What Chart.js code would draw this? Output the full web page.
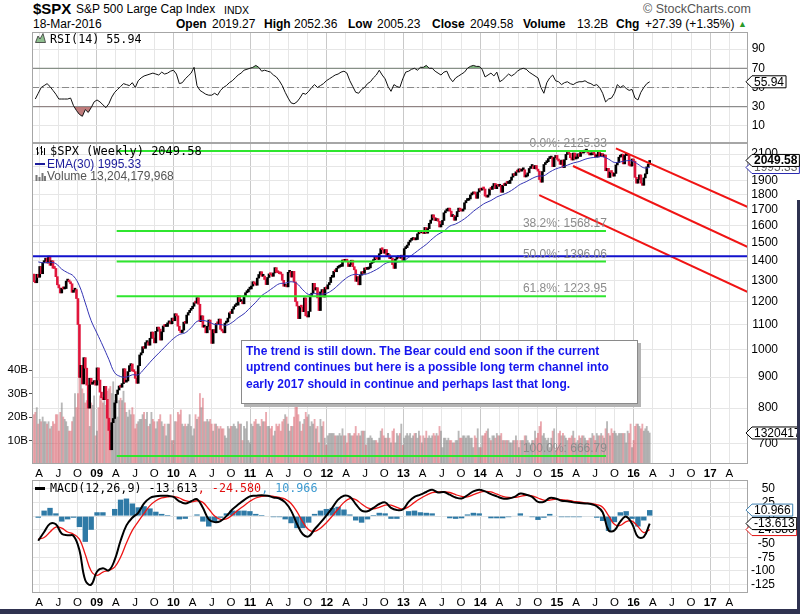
<!DOCTYPE html>
<html>
<head>
<meta charset="utf-8">
<script src="https://cdn.jsdelivr.net/npm/chart.js@4.4.1/dist/chart.umd.min.js"></script>
<style>
  body { margin: 0; background: #fff; font-family: Arial, "Liberation Sans", sans-serif; }
  #wrap { position: relative; width: 800px; height: 614px; overflow: hidden; background: #fff; }
  canvas { position: absolute; left: 0; }
  .t { position: absolute; white-space: nowrap; line-height: 14px; color: #000; }
  .b { font-weight: bold; }
  .mono { font-family: "DejaVu Sans Mono", monospace; }
  #note {
    position: absolute; left: 241px; top: 340px; width: 397px; height: 64px;
    box-sizing: border-box; border: 1px solid #8a8a8a; background: #fff;
    box-shadow: 3px 3px 0 #b4b4b4; padding: 2px 0 0 4px;
    font: bold 12px Arial, "Liberation Sans", sans-serif; line-height: 16.3px; color: #1515ee;
  }
</style>
</head>
<body>
<div id="wrap">
  <canvas id="rsiChart" width="800" height="111" style="top:32px"></canvas>
  <canvas id="priceChart" width="800" height="347" style="top:133px"></canvas>
  <canvas id="macdChart" width="800" height="129" style="top:480px"></canvas>

  <!-- header -->
  <div class="t b" style="left:33px;top:1px;font-size:15px;line-height:16px">$SPX</div>
  <div class="t" style="left:76px;top:2px;font-size:12px">S&amp;P 500 Large Cap Index</div>
  <div class="t" style="left:224px;top:3px;font-size:10.5px">INDX</div>
  <div class="t" style="left:643px;top:2px;font-size:12.5px;color:#555">&copy; StockCharts.com</div>
  <div class="t" style="left:33px;top:17px;font-size:12px">18-Mar-2016</div>
  <div class="t b" style="left:176px;top:17px;font-size:12px">Open</div>
  <div class="t" style="left:212px;top:17px;font-size:12px">2019.27</div>
  <div class="t b" style="left:264px;top:17px;font-size:12px">High</div>
  <div class="t" style="left:294px;top:17px;font-size:12px">2052.36</div>
  <div class="t b" style="left:348px;top:17px;font-size:12px">Low</div>
  <div class="t" style="left:377px;top:17px;font-size:12px">2005.23</div>
  <div class="t b" style="left:432px;top:17px;font-size:12px">Close</div>
  <div class="t" style="left:470px;top:17px;font-size:12px">2049.58</div>
  <div class="t b" style="left:523px;top:17px;font-size:12px">Volume</div>
  <div class="t" style="left:577px;top:17px;font-size:12px">13.2B</div>
  <div class="t b" style="left:616px;top:17px;font-size:12px">Chg</div>
  <div class="t" style="left:645px;top:17px;font-size:12px">+27.39 (+1.35%)</div>
  <div class="t" style="left:738px;top:17px;font-size:9px;color:#2a9a2a">&#9650;</div>

  <!-- panel labels -->
  <svg style="position:absolute;left:35px;top:33px" width="11" height="10"><polygon points="0.5,9.5 3,3 5,6 8,0.5 10.5,9.5" fill="#8fbf8f" stroke="#333" stroke-width="0.8"/></svg>
  <div class="t mono" style="left:50px;top:32px;font-size:11.7px">RSI(14) 55.94</div>

  <svg style="position:absolute;left:35px;top:146px" width="11" height="10"><path d="M2.5 1v8M1 3h1.5M2.5 7h1.5M6.5 0v9M5 2h1.5M6.5 6h1.5M9.5 2v7" stroke="#000" fill="none"/></svg>
  <div class="t mono" style="left:50px;top:144px;font-size:12px">$SPX (Weekly) 2049.58</div>
  <div style="position:absolute;left:35px;top:163px;width:10px;height:2px;background:#1c1c9c"></div>
  <div class="t" style="left:47px;top:157px;font-size:12px;color:#1c1c9c">EMA(30) 1995.33</div>
  <svg style="position:absolute;left:35px;top:171px" width="11" height="10"><path d="M1.5 10V4M4.5 10V6M7.5 10V2M10 10V5" stroke="#777" stroke-width="2"/></svg>
  <div class="t" style="left:47px;top:169px;font-size:12px;color:#555">Volume 13,204,179,968</div>

  <div style="position:absolute;left:35px;top:487px;width:10px;height:2.5px;background:#000"></div>
  <div class="t mono" style="left:50px;top:481px;font-size:11.7px">MACD(12,26,9) -13.613<span style="color:#e01010">, -24.580</span><span style="color:#3d9ad0">, 10.966</span></div>

  <div id="note">The trend is still down. The Bear could end soon if the current<br>uptrend continues but here is a possible long term channel into<br>early 2017 should in continue and perhaps last that long.</div>

  <div style="position:absolute;left:0;top:609px;width:800px;height:5px;background:#2f3250"></div>
  <div style="position:absolute;left:797px;top:200px;width:3px;height:414px;background:#2f3250"></div>
</div>

<script>
// ---- weekly S&P 500 closes (Fri), first bar 7-Mar-2008 ----
const prevClose = 1331;
const close08 = [1293,1288,1330,1315,1370,1333,1390,1398,1414,1388,1425,1376,1400,1361,1360,1318,1278,1263,1239,1261,1258,1260,1296,1298,1292,1283,1242,1252,1255,1213,1099,899,941,877,969,931,873,800,896,876,880,888,873];
const close09 = [932,890,850,832,826,869,827,770,735,683,757,769,816,843,857,870,866,878,929,883,887,919,940,946,921,919,896,879,940,979,987,1010,1004,1026,1029,1016,1043,1068,1044,1025,1071,1088,1080,1036,1069,1093,1091,1091,1106,1106,1102,1126,1115];
const close10 = [1145,1136,1092,1074,1066,1076,1109,1104,1139,1150,1160,1167,1178,1194,1192,1217,1187,1111,1136,1088,1089,1065,1092,1118,1077,1023,1078,1065,1103,1102,1122,1079,1072,1065,1105,1110,1126,1149,1146,1165,1176,1183,1183,1226,1199,1200,1189,1225,1240,1244,1257,1258];
const close11 = [1272,1293,1283,1276,1311,1329,1343,1320,1321,1304,1279,1314,1332,1328,1320,1337,1364,1340,1338,1333,1331,1300,1271,1272,1268,1340,1344,1316,1345,1292,1199,1179,1124,1177,1174,1154,1216,1136,1131,1155,1225,1238,1285,1253,1264,1216,1159,1244,1255,1220,1265,1258];
const close12 = [1278,1289,1315,1316,1345,1343,1361,1366,1370,1371,1404,1397,1408,1398,1370,1379,1403,1369,1353,1295,1318,1278,1326,1343,1335,1362,1355,1357,1363,1386,1391,1406,1418,1411,1407,1438,1466,1460,1441,1461,1429,1433,1412,1414,1380,1360,1409,1416,1418,1414,1430,1402];
const close13 = [1466,1472,1486,1503,1513,1518,1520,1516,1518,1551,1561,1557,1569,1553,1589,1555,1582,1614,1634,1667,1650,1631,1643,1627,1592,1606,1632,1680,1692,1692,1710,1691,1656,1664,1633,1655,1688,1710,1692,1691,1703,1745,1760,1762,1771,1798,1805,1806,1805,1775,1818,1841];
const close14 = [1831,1842,1839,1790,1783,1797,1839,1836,1859,1878,1841,1867,1858,1865,1816,1865,1863,1881,1878,1878,1901,1924,1949,1936,1963,1961,1985,1968,1978,1978,1925,1932,1955,1988,2003,2008,1986,2010,1983,1968,1906,1887,1965,2018,2032,2040,2064,2068,2075,2002,2071,2089];
const close15 = [2058,2045,2019,2052,1995,2055,2097,2110,2105,2071,2053,2108,2061,2067,2102,2081,2118,2108,2116,2123,2126,2107,2093,2094,2110,2101,2077,2077,2127,2080,2104,2078,2092,1971,1989,1921,1961,1958,1931,1951,2015,2033,2075,2079,2099,2023,2089,2090,2092,2012,2006,2061,2044];
const close16 = [1922,1880,1907,1940,1880,1865,1918,1948,2000,2022,2049.58];

// ---- weekly volume, billions ----
const vol08 = [21,22,24,17,19,18,20,18,18,17,18,15,16,18,17,21,21,14,22,26,20,19,18,16,14,14,18,20,30,24,30,39,37,32,30,26,27,33,16,26,25,29,12];
const vol09 = [14,24,29,27,26,27,25,31,32,33,30,35,27,28,20,27,28,27,31,26,22,20,23,21,24,21,15,17,18,19,19,21,22,19,22,16,17,22,19,18,15,18,19,21,18,16,17,12,17,17,21,10,10];
const vol10 = [18,18,22,21,23,17,16,17,16,17,21,16,12,15,21,19,20,30,24,28,18,18,19,18,19,17,14,17,17,16,15,16,15,15,12,11,16,15,16,16,17,16,15,18,17,17,10,16,15,18,10,9];
const vol11 = [17,16,18,19,17,17,16,19,18,18,22,16,16,15,16,12,14,17,16,17,14,18,19,21,20,17,14,16,16,20,25,27,21,18,14,17,19,22,20,21,16,18,17,19,15,16,9,19,16,18,11,8];
const vol12 = [12,13,13,13,13,12,12,12,13,12,15,12,12,9,13,13,12,12,13,16,12,13,12,14,14,14,8,11,11,12,11,10,10,10,9,11,14,15,12,11,11,13,11,9,14,15,9,13,12,13,17,8];
const vol13 = [11,12,13,12,13,11,12,13,13,11,14,12,9,12,11,14,11,12,11,12,13,12,13,12,16,14,7,11,11,10,11,10,10,9,9,10,10,14,11,11,12,12,11,12,12,11,11,7,12,11,15,7];
const vol14 = [7,12,12,13,14,15,11,10,12,12,11,13,12,12,13,10,10,10,10,10,9,9,10,10,12,10,7,10,10,10,12,12,10,9,8,10,10,14,11,13,16,18,12,13,11,10,11,7,11,14,15,6];
const vol15 = [7,13,14,12,13,12,11,10,11,11,12,14,11,9,10,12,11,12,12,11,10,10,11,11,13,12,10,13,12,12,13,12,11,15,18,13,12,15,13,14,13,12,13,13,13,13,13,9,14,13,17,7,10];
const vol16 = [16,17,17,16,15,17,14,15,16,14,13.2];
const volLastExact = 13204179968;

// ---- EMA(30), every 4th week starting week 3 ----
const ema30 = [1394,1389,1392,1385,1356,1338,1321,1273,1193,1115,1063,1013,963,915,902,900,908,908,928,952,
  975,997,1020,1042,1058,1065,1086,1112,1116,1110,1099,1099,1096,1108,1128,1145,1170,1196,1226,1245,
  1265,1283,1286,1293,1284,1254,1232,1236,1233,1237,1252,1276,1302,1322,1330,1327,1333,1346,1363,1385,
  1394,1393,1398,1418,1441,1466,1490,1521,1548,1567,1597,1610,1630,1656,1689,1717,1743,1760,1784,1800,
  1817,1843,1872,1891,1914,1931,1934,1961,1984,1998,2013,2030,2041,2059,2070,2075,2080,2060,2034,2038,
  2047,2046,2021,1993,1995.33];

// ---- RSI(14), every 2nd week starting week 1 ----
const rsi14 = [38,44,50,52,54,51,47,43,38,38,38,38,39,31,26,22,20,27,24,29,
  35,37,35,32,29,33,40,45,48,51,54,53,52,55,50,57,60,62,63,64,
  65,64,63,66,64,65,67,68,64,54,55,59,62,65,71,52,47,45,43,42,
  42,44,42,47,50,52,55,57,60,63,65,68,69,70,71,73,71,67,68,67,
  66,63,61,57,52,45,39,34,33,35,39,44,43,46,50,53,50,52,54,57,
  59,61,63,64,66,67,65,57,51,45,44,48,50,54,56,60,63,68,63,59,
  51,46,53,51,50,59,66,67,69,70,68,71,71,73,70,70,67,65,63,66,
  67,60,56,60,62,64,66,70,72,73,72,72,69,61,63,65,62,66,56,58,
  61,64,62,64,67,69,70,69,66,64,62,60,50,44,55,60,63,57,56,53,
  55,56,54,53,55,56,56,57,55,54,52,53,50,44,35,38,39,44,53,50,
  52,49,47,48,39,37,45,50,54,55.94];

// ---- MACD(12,26,9), every 4th week starting week 3 ----
const macdLine = [-45,-29,-14,-15,-32,-35,-36,-62,-117,-125,-101,-95,-99,-80,-45,-17,-3,6,23,33,
  36,37,37,35,27,23,27,31,15,-6,-11,-9,0,12,21,29,36,37,38,37,34,32,25,10,-14,-33,-37,-24,-12,1,
  15,30,37,35,22,10,9,15,22,25,15,11,12,26,35,39,44,48,43,44,39,34,32,38,45,48,45,40,36,32,
  32,35,41,39,35,26,26,33,32,28,27,25,24,23,22,18,7,-26,-26,-10,-1,-14,-38,-38,-13.613];
const macdSignal = [-42,-39,-29,-20,-22,-29,-33,-42,-70,-100,-108,-102,-99,-93,-75,-49,-26,-10,5,19,
  28,33,35,36,33,28,26,28,25,13,0,-6,-5,2,11,19,27,33,36,37,36,34,31,23,8,-11,-25,-28,-22,-12,
  0,13,25,32,30,22,15,13,16,20,20,16,13,17,25,32,38,43,44,44,43,39,36,35,39,43,45,44,40,36,
  34,34,36,38,37,33,29,29,31,30,29,27,26,24,23,21,16,1,-15,-17,-10,-9,-19,-30,-24.58];
const macdHist = [-3,10,15,5,-10,-6,-3,-20,-47,-25,7,7,0,13,30,32,23,16,18,14,
  8,4,2,-1,-6,-5,1,3,-10,-19,-11,-3,5,10,10,10,9,4,2,0,-2,-2,-6,-13,-22,-22,-12,4,10,13,
  15,17,12,3,-8,-12,-6,2,6,5,-5,-5,-1,9,10,7,6,5,-1,0,-4,-5,-4,3,6,5,0,-4,-4,-4,
  -2,1,5,1,-2,-7,-3,4,1,-2,-2,-2,-2,-1,-1,-3,-9,-27,-11,7,9,-5,-19,-8,10.966];

// ---- annotations ----
const fibLevels = [2125.33, 1568.17, 1396.06, 1223.95, 666.79];
const fibNames = ['0.0%', '38.2%', '50.0%', '61.8%', '100.0%'];
const fibSpan = [2009.26, 2015.64];
const resistLevel = 1425;
const channelStart = [[2015.77, 2146], [2015.21, 2007], [2014.77, 1797]];
const channelEnd = [[2017.49, 1717], [2017.49, 1475], [2017.49, 1243]];

// ---- ticks ----
const xTickLabels = ['A','J','O','09','A','J','O','10','A','J','O','11','A','J','O','12','A','J','O','13',
  'A','J','O','14','A','J','O','15','A','J','O','16','A','J','O','17','A'];
const rsiTicks = [10, 30, 50, 70, 90];
const rsiLevels = [30, 50, 70];
const priceTicks = [700,800,900,1000,1100,1200,1300,1400,1500,1600,1700,1800,1900,2000,2100];
const volTicks = [10, 20, 30, 40];
const macdTicks = [50, 25, 0, -25, -50, -75, -100, -125];

// ---- setup ----
const FONT = 'Arial, "Liberation Sans", sans-serif';
const startT = 2008.180;              // Fri 7-Mar-2008 as a year fraction
const weekT = i => startT + i * 7 / 365.25;
const tMin = 2008.156, tMax = 2017.492;
const firstTick = 2008.25;
const xTicks = xTickLabels.map((l, i) => firstTick + i * 0.25);
const isYear = i => /^\d\d$/.test(xTickLabels[i] || '');

const closes = [].concat(close08, close09, close10, close11, close12, close13, close14, close15, close16);
const volumes = [].concat(vol08, vol09, vol10, vol11, vol12, vol13, vol14, vol15, vol16);
const isUp = closes.map((c, i) => c >= (i ? closes[i - 1] : prevClose));

function xScale(showLabels) {
  return {
    type: 'linear', min: tMin, max: tMax, offset: false,
    afterBuildTicks: s => { s.ticks = xTicks.map(v => ({ value: v })); },
    afterFit: s => { s.height = showLabels ? 16 : 0; s.paddingLeft = 0; s.paddingRight = 0; },
    grid: { color: c => isYear(c.index) ? '#c9c9c9' : '#e6e6e6', drawTicks: false, offset: false },
    border: { display: false },
    ticks: {
      display: showLabels, autoSkip: false, maxRotation: 0, padding: 3, color: '#000',
      font: c => ({ family: FONT, size: 11.5, weight: isYear(c.index) ? 'bold' : 'normal' }),
      callback: (v, i) => xTickLabels[i]
    }
  };
}

// right axis: labels right-aligned at the far edge of a box of given width
function rightScale(width, extra) {
  return Object.assign({
    position: 'right',
    afterFit: s => { s.width = width; s.paddingTop = 0; s.paddingBottom = 0; },
    grid: { color: '#e6e6e6', drawTicks: false },
    border: { display: false },
    ticks: { crossAlign: 'far', autoSkip: false, padding: 4, color: '#000', font: { family: FONT, size: 12 }, callback: v => String(v) }
  }, extra);
}

function tag(ctx, x, y, text, stroke, color, bold) {
  ctx.save();
  ctx.font = (bold ? 'bold ' : '') + '12px ' + FONT;
  const w = ctx.measureText(text).width + 4, h = 12;
  ctx.beginPath();
  ctx.moveTo(x, y);
  ctx.lineTo(x + 6, y - h / 2);
  ctx.lineTo(x + 6 + w, y - h / 2);
  ctx.lineTo(x + 6 + w, y + h / 2);
  ctx.lineTo(x + 6, y + h / 2);
  ctx.closePath();
  ctx.fillStyle = '#fff'; ctx.fill();
  ctx.strokeStyle = stroke; ctx.lineWidth = 1; ctx.stroke();
  ctx.fillStyle = color; ctx.textAlign = 'left'; ctx.textBaseline = 'middle';
  ctx.fillText(text, x + 8, y + 0.5);
  ctx.restore();
}

const frame = {
  id: 'frame',
  afterDraw(chart) {
    const { ctx, chartArea: a } = chart;
    ctx.save();
    ctx.strokeStyle = '#a6a6a6'; ctx.lineWidth = 1;
    ctx.strokeRect(a.left + 0.5, a.top + 0.5, a.right - a.left - 1, a.bottom - a.top - 1);
    ctx.restore();
  }
};

const common = {
  responsive: false, animation: false, devicePixelRatio: 1,
  events: [],
  plugins: { legend: { display: false }, tooltip: { enabled: false } },
  elements: { point: { radius: 0 } }
};

// ---- RSI panel ----
new Chart(document.getElementById('rsiChart'), {
  type: 'line',
  data: {
    datasets: [
      { data: rsi14.map((v, j) => ({ x: weekT(2 * j + 1), y: v })), borderColor: '#111', borderWidth: 1,
        fill: { target: { value: 30 }, above: 'rgba(0,0,0,0)', below: 'rgba(170,80,80,0.75)' }, order: 1 },
      { data: rsi14.map((v, j) => ({ x: weekT(2 * j + 1), y: v })), borderWidth: 0, borderColor: 'rgba(0,0,0,0)',
        fill: { target: { value: 70 }, above: 'rgba(90,160,90,0.75)', below: 'rgba(0,0,0,0)' }, order: 2 },
      ...rsiLevels.map(lv => ({
        data: [{ x: tMin, y: lv }, { x: tMax, y: lv }],
        borderColor: lv === 50 ? '#8a8a8a' : '#777', borderWidth: 1,
        borderDash: lv === 50 ? [7, 3, 2, 3] : [], order: 3
      }))
    ]
  },
  options: Object.assign({}, common, {
    layout: { padding: { left: 32, right: 35, top: 0, bottom: 0 } },
    scales: {
      x: xScale(false),
      y: rightScale(17, { min: -7.8, max: 107.8, afterBuildTicks: s => { s.ticks = rsiTicks.map(v => ({ value: v })); } })
    }
  }),
  plugins: [frame, {
    id: 'rsiTag',
    afterDraw(chart) {
      const v = rsi14[rsi14.length - 1];
      tag(chart.ctx, chart.chartArea.right - 2, chart.scales.y.getPixelForValue(v), v.toFixed(2), '#000', '#000', false);
    }
  }]
});

// ---- price panel ----
const lineDs = (pts, color, width) => ({
  type: 'line', yAxisID: 'y', data: pts.map(p => ({ x: p[0], y: p[1] })),
  borderColor: color, borderWidth: width, tension: 0, order: 1
});

new Chart(document.getElementById('priceChart'), {
  type: 'line',
  data: {
    datasets: [
      { type: 'bar', yAxisID: 'yv', grouped: false, order: 5, barThickness: 1.2,
        data: volumes.map((v, i) => ({ x: weekT(i), y: v })),
        backgroundColor: isUp.map(u => u ? 'rgba(125,125,125,0.55)' : 'rgba(214,84,96,0.5)') },
      { type: 'bar', yAxisID: 'y', grouped: false, order: 3, barThickness: 2, minBarLength: 2,
        data: closes.map((c, i) => {
          const p = i ? closes[i - 1] : prevClose;
          return { x: weekT(i), y: [Math.min(p, c), Math.max(p, c)] };
        }),
        backgroundColor: isUp.map(u => u ? '#000' : '#e0163c') },
      { type: 'line', yAxisID: 'y', order: 2, borderColor: '#3434b4', borderWidth: 1, tension: 0.4,
        data: ema30.map((v, k) => ({ x: weekT(3 + 4 * k), y: v })) },
      ...fibLevels.map(lv => lineDs([[fibSpan[0], lv], [fibSpan[1], lv]], '#2fe62f', 2)),
      lineDs([[tMin, resistLevel], [tMax, resistLevel]], '#1212cc', 2),
      ...channelStart.map((s, k) => lineDs([s, channelEnd[k]], '#f01414', 2))
    ]
  },
  options: Object.assign({}, common, {
    layout: { padding: { left: 0, right: 22, top: 10, bottom: 0 } },
    scales: {
      x: xScale(true),
      y: rightScale(30, { type: 'logarithmic', min: 647, max: 2190,
        afterBuildTicks: s => { s.ticks = priceTicks.map(v => ({ value: v })); } }),
      yv: {
        position: 'left', min: 0, max: 136.6,
        afterBuildTicks: s => { s.ticks = volTicks.map(v => ({ value: v })); },
        afterFit: s => { s.width = 32; s.paddingTop = 0; s.paddingBottom = 0; },
        grid: { drawOnChartArea: false, drawTicks: true, tickLength: 3, color: '#555' },
        border: { display: false },
        ticks: { autoSkip: false, padding: 1, color: '#000', font: { family: FONT, size: 11.5 }, callback: v => v + 'B' }
      }
    }
  }),
  plugins: [frame, {
    id: 'priceDecor',
    afterDatasetsDraw(chart) {
      const { ctx } = chart, xs = chart.scales.x, ys = chart.scales.y;
      ctx.save();
      ctx.font = '12px ' + FONT; ctx.fillStyle = '#8c8c8c';
      ctx.textAlign = 'right'; ctx.textBaseline = 'middle';
      fibLevels.forEach((lv, k) => {
        ctx.fillText(fibNames[k] + ': ' + lv.toFixed(2), xs.getPixelForValue(fibSpan[1]) + 1, ys.getPixelForValue(lv) - 7);
      });
      ctx.restore();
    },
    afterDraw(chart) {
      const { ctx } = chart, x = chart.chartArea.right - 2;
      const ys = chart.scales.y, yv = chart.scales.yv;
      tag(ctx, x, yv.getPixelForValue(volumes[volumes.length - 1]), String(volLastExact), '#000', '#000', false);
      const e = ema30[ema30.length - 1], c = closes[closes.length - 1];
      tag(ctx, x, ys.getPixelForValue(e), e.toFixed(2), '#2a2ab0', '#666', false);
      tag(ctx, x, ys.getPixelForValue(c), c.toFixed(2), '#000', '#000', true);
    }
  }]
});

// ---- MACD panel ----
new Chart(document.getElementById('macdChart'), {
  type: 'line',
  data: {
    datasets: [
      { type: 'bar', order: 3, grouped: false, barPercentage: 0.92, categoryPercentage: 1,
        data: macdHist.map((v, k) => ({ x: weekT(3 + 4 * k), y: v })), backgroundColor: '#2f7aa6' },
      { type: 'line', order: 2, borderColor: '#ee1515', borderWidth: 1.3, tension: 0.4,
        data: macdSignal.map((v, k) => ({ x: weekT(3 + 4 * k), y: v })) },
      { type: 'line', order: 1, borderColor: '#000', borderWidth: 2, tension: 0.4,
        data: macdLine.map((v, k) => ({ x: weekT(3 + 4 * k), y: v })) }
    ]
  },
  options: Object.assign({}, common, {
    layout: { padding: { left: 32, right: 25, top: 0, bottom: 0 } },
    scales: {
      x: xScale(true),
      y: rightScale(27, { min: -140.2, max: 65.8, afterBuildTicks: s => { s.ticks = macdTicks.map(v => ({ value: v })); } })
    }
  }),
  plugins: [frame, {
    id: 'macdTags',
    afterDraw(chart) {
      const { ctx } = chart, x = chart.chartArea.right - 2, ys = chart.scales.y;
      const s = macdSignal[macdSignal.length - 1], m = macdLine[macdLine.length - 1], h = macdHist[macdHist.length - 1];
      tag(ctx, x, ys.getPixelForValue(s), s.toFixed(3), '#e01010', '#000', false);
      tag(ctx, x, ys.getPixelForValue(m), m.toFixed(3), '#000', '#000', false);
      tag(ctx, x, ys.getPixelForValue(h), h.toFixed(3), '#3d7fb0', '#000', false);
    }
  }]
});
</script>
</body>
</html>
